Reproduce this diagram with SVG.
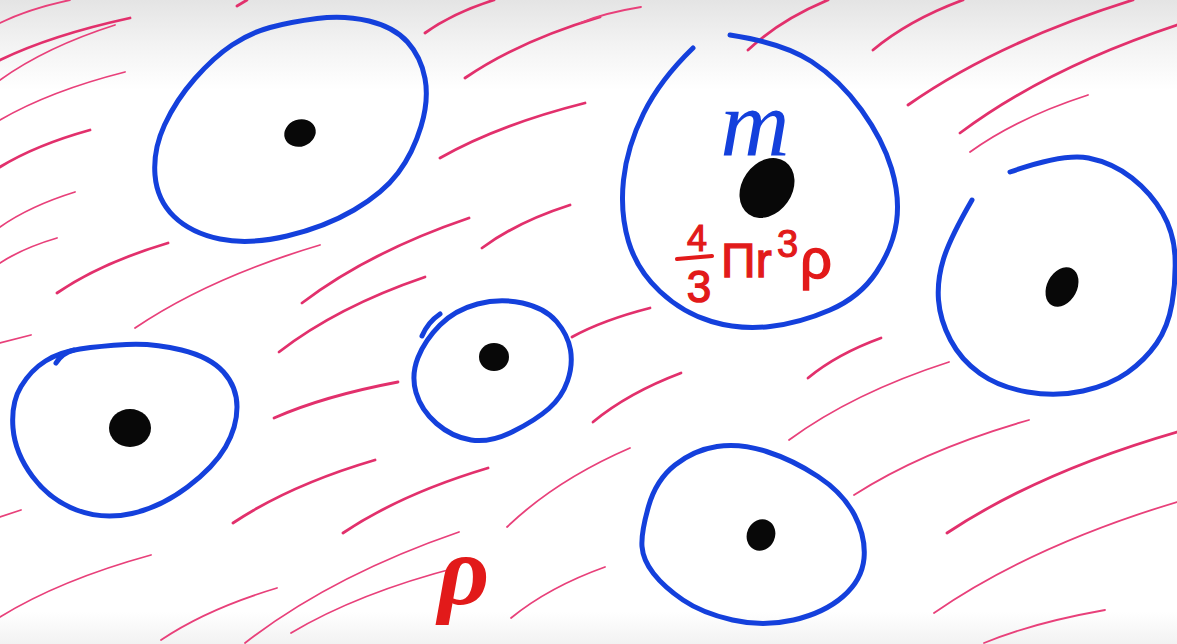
<svg xmlns="http://www.w3.org/2000/svg" width="1177" height="644" viewBox="0 0 1177 644">
<defs>
<linearGradient id="paper" x1="0" y1="0" x2="0" y2="1">
<stop offset="0" stop-color="#e4e4e4"/>
<stop offset="0.07" stop-color="#f3f3f3"/>
<stop offset="0.14" stop-color="#ffffff"/>
<stop offset="0.95" stop-color="#ffffff"/>
<stop offset="1" stop-color="#f2f2f2"/>
</linearGradient>
<style>
.ring{fill:none;stroke:#1440dc;stroke-width:5;stroke-linecap:round;stroke-linejoin:round}
.dot{fill:#080808}
.h{fill:none;stroke:#e2306c;stroke-width:2.8;stroke-linecap:round}
.t{fill:none;stroke:#e8407a;stroke-width:1.8;stroke-linecap:round}
.red{fill:#e21a1a;stroke:#e21a1a;font-family:"Liberation Sans",Arial,sans-serif}
</style>
</defs>
<rect width="1177" height="644" fill="url(#paper)"/>
<g id="hatching">
<path class="t" d="M0,23 Q28,9 70,0"/>
<path class="h" d="M0,60 Q52,35 130,18"/>
<path class="t" d="M0,80 Q46,47 115,25"/>
<path class="t" d="M0,120 Q50,91 125,72"/>
<path class="h" d="M0,167 Q36,145 90,130"/>
<path class="t" d="M0,227 Q30,206 75,192"/>
<path class="t" d="M0,263 Q23,248 57,238"/>
<path class="h" d="M57,293 Q101,263 168,243"/>
<path class="t" d="M135,328 Q209,278 320,245"/>
<path class="h" d="M302,303 Q369,252 469,218"/>
<path class="h" d="M279,352 Q337,307 425,277"/>
<path class="h" d="M425,33 Q453,13 494,0"/>
<path class="h" d="M465,78 Q519,41 600,17"/>
<path class="h" d="M440,158 Q498,125 585,103"/>
<path class="h" d="M482,248 Q517,222 570,205"/>
<path class="h" d="M237,6 L247,0"/>
<path class="t" d="M580,23 Q604,13 641,7"/>
<path class="h" d="M748,50 Q780,20 828,0"/>
<path class="h" d="M873,50 Q909,20 963,0"/>
<path class="h" d="M908,105 Q998,42 1133,0"/>
<path class="h" d="M960,133 Q1047,68 1177,25"/>
<path class="t" d="M970,152 Q1017,118 1088,95"/>
<path class="h" d="M572,337 Q603,320 650,308"/>
<path class="t" d="M0,343 L31,335"/>
<path class="h" d="M274,418 Q324,396 398,382"/>
<path class="t" d="M0,517 L21,510"/>
<path class="h" d="M233,523 Q290,485 375,460"/>
<path class="h" d="M343,533 Q401,494 488,468"/>
<path class="t" d="M507,527 Q556,480 630,448"/>
<path class="h" d="M593,422 Q628,393 681,373"/>
<path class="t" d="M0,617 Q60,580 151,555"/>
<path class="t" d="M161,640 Q207,609 277,588"/>
<path class="t" d="M245,643 Q331,576 459,532"/>
<path class="t" d="M291,633 Q358,593 459,567"/>
<path class="t" d="M511,618 Q549,587 605,567"/>
<path class="h" d="M808,378 Q837,354 881,338"/>
<path class="t" d="M789,440 Q853,393 949,362"/>
<path class="t" d="M854,495 Q924,450 1029,420"/>
<path class="h" d="M947,533 Q1039,472 1177,432"/>
<path class="t" d="M934,613 Q1031,546 1177,502"/>
<path class="t" d="M984,643 Q1032,623 1105,610"/>
</g>
<g id="cell-top-left">
<path class="ring" d="M270,27.5 Q290,22 317,18.5 Q344,15 369,21 Q394,27 407.5,42 Q421,57 425,78.5 Q429,100 421,126.5 Q413,153 398,173 Q383,193 354,210 Q325,227 287,236 Q249,245 220,239 Q191,233 174,216.5 Q157,200 155,175 Q153,150 164.5,125 Q176,100 195,78.5 Q214,57 232,45 Q250,33 270,27.5 Z"/>
<ellipse class="dot" cx="300" cy="133" rx="16" ry="13.5" transform="rotate(-20 300 133)"/>
</g>
<g id="cell-m">
<path class="ring" d="M693,48 Q660,80 643.5,113.5 Q627,147 623.5,180 Q620,213 628.5,241.5 Q637,270 660,291.5 Q683,313 711.5,321.5 Q740,330 770,326.5 Q800,323 830,310 Q860,297 876.5,272 Q893,247 896.5,222 Q900,197 891.5,168.5 Q883,140 861.5,110 Q840,80 811.5,61.5 Q783,43 730,35"/>
<ellipse class="dot" cx="767" cy="188" rx="32" ry="25" transform="rotate(-55 767 188)"/>
<text x="755" y="156" text-anchor="middle" font-family="'Liberation Serif', 'Times New Roman', serif" font-style="italic" font-size="96" fill="#1440dc">m</text>
<g id="formula">
<text class="red" x="697" y="251" text-anchor="middle" font-size="36" stroke-width="1.2">4</text>
<line x1="677" y1="259" x2="712" y2="256" stroke="#e21a1a" stroke-width="4" stroke-linecap="round"/>
<text class="red" x="699" y="302" text-anchor="middle" font-size="44" stroke-width="1.4">3</text>
<text class="red" x="721" y="277" font-size="48" stroke-width="1.3">Πr</text>
<text class="red" x="777" y="257" font-size="38" stroke-width="1.2">3</text>
<text class="red" x="800" y="278" font-size="56" stroke-width="1.5">ρ</text>
</g>
</g>
<g id="cell-right">
<path class="ring" d="M1010,172 Q1064,153 1088.5,158 Q1113,163 1132,178 Q1151,193 1162.5,213 Q1174,233 1175,256.5 Q1176,280 1172,303.5 Q1168,327 1156.5,343.5 Q1145,360 1127.5,372.5 Q1110,385 1083,391 Q1056,397 1027.5,392 Q999,387 980,373.5 Q961,360 950.5,340 Q940,320 938.5,300 Q937,280 943.5,259 Q950,238 972,200"/>
<ellipse class="dot" cx="1062" cy="287" rx="21" ry="15" transform="rotate(-62 1062 287)"/>
</g>
<g id="cell-bottom-left">
<path class="ring" d="M80,349 Q100,346 126.5,344.5 Q153,343 181.5,350 Q210,357 223.5,372 Q237,387 237,407 Q237,427 225.5,447 Q214,467 187.5,487 Q161,507 132,513.5 Q103,520 76.5,510 Q50,500 32.5,476.5 Q15,453 13,428 Q11,403 21,386.5 Q31,370 45.5,361 Q60,352 80,349 Z"/>
<path class="ring" stroke-width="3.5" d="M56,363 Q62,353 74,350"/>
<ellipse class="dot" cx="130" cy="428" rx="21" ry="19"/>
</g>
<g id="cell-small">
<path class="ring" d="M477.5,304 Q500,298 522.5,303 Q545,308 556.5,321.5 Q568,335 570.5,350 Q573,365 567.5,381 Q562,397 549,408.5 Q536,420 513,431.5 Q490,443 471,440 Q452,437 436.5,423.5 Q421,410 416,392.5 Q411,375 418,357.5 Q425,340 440,325 Q455,310 477.5,304 Z"/>
<path class="ring" stroke-width="3.5" d="M422,336 Q428,322 440,314"/>
<ellipse class="dot" cx="494" cy="357" rx="15" ry="14"/>
</g>
<g id="cell-bottom">
<path class="ring" d="M717,446.5 Q740,443 766.5,451.5 Q793,460 818,476.5 Q843,493 854.5,515 Q866,537 864,558.5 Q862,580 843,596.5 Q824,613 793.5,620 Q763,627 732.5,620 Q702,613 683,600 Q664,587 653.5,573.5 Q643,560 642,546.5 Q641,533 648.5,506.5 Q656,480 675,465 Q694,450 717,446.5 Z"/>
<ellipse class="dot" cx="761" cy="535" rx="14" ry="16" transform="rotate(25 761 535)"/>
</g>
<g id="label-rho">
<text x="438" y="604" font-family="'Liberation Serif', 'Times New Roman', serif" font-style="italic" font-weight="bold" font-size="100" fill="#e21a1a">ρ</text>
</g>
</svg>
